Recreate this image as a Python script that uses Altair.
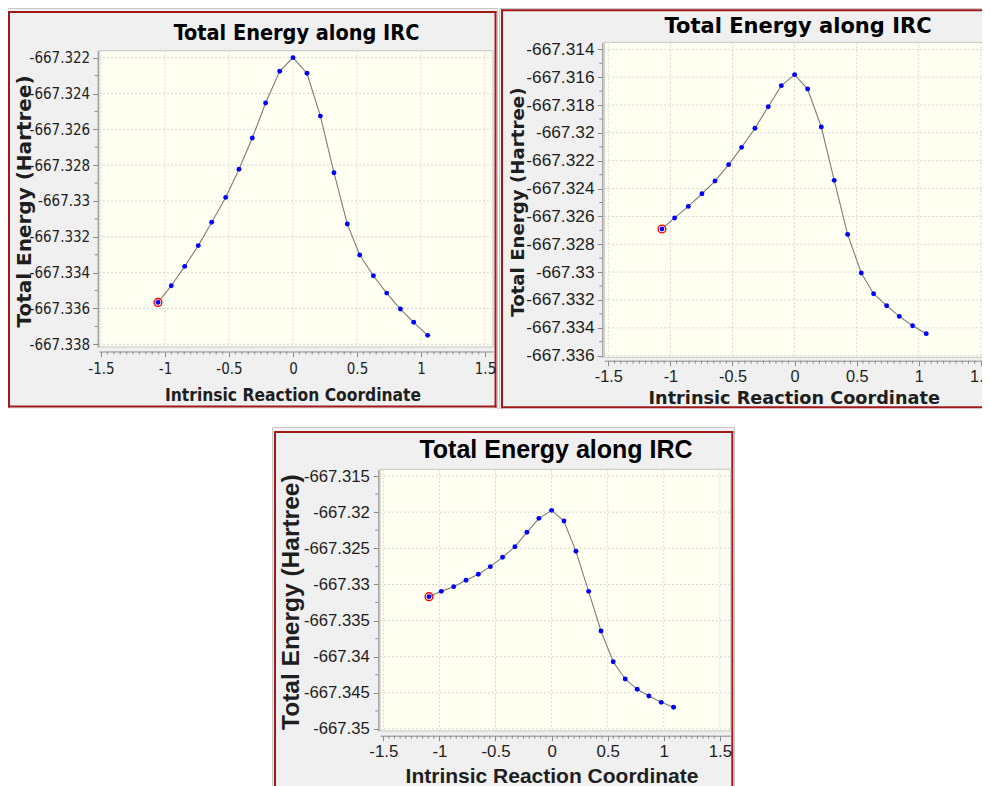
import altair as alt
import pandas as pd

# ---------------- data ----------------
IRC_A = [-1.055, -0.951, -0.846, -0.740, -0.635, -0.526, -0.422, -0.318, -0.214, -0.104, 0.000,
         0.109, 0.214, 0.320, 0.424, 0.521, 0.628, 0.732, 0.839, 0.943, 1.052]
E_A = [-667.33566, -667.33473, -667.33365, -667.33249, -667.33119, -667.32980, -667.32823,
       -667.32648, -667.32453, -667.32276, -667.32200, -667.32287, -667.32526, -667.32842,
       -667.33128, -667.33301, -667.33417, -667.33514, -667.33603, -667.33677, -667.33750]

IRC_B = [-1.068, -0.966, -0.856, -0.746, -0.641, -0.531, -0.427, -0.319, -0.212, -0.107, 0.000,
         0.105, 0.215, 0.319, 0.427, 0.537, 0.636, 0.741, 0.843, 0.950, 1.060]
E_B = [-667.32690, -667.32611, -667.32528, -667.32437, -667.32346, -667.32228, -667.32104,
       -667.31967, -667.31812, -667.31661, -667.31582, -667.31685, -667.31958, -667.32341,
       -667.32729, -667.33006, -667.33155, -667.33241, -667.33318, -667.33385, -667.33442]

IRC_C = [-1.093, -0.983, -0.873, -0.763, -0.653, -0.546, -0.437, -0.327, -0.220, -0.113, 0.000,
         0.110, 0.217, 0.330, 0.440, 0.549, 0.656, 0.763, 0.867, 0.977, 1.087]
E_C = [-667.33169, -667.33096, -667.33031, -667.32943, -667.32860, -667.32754, -667.32625,
       -667.32478, -667.32279, -667.32086, -667.31975, -667.32123, -667.32542, -667.33096,
       -667.33644, -667.34069, -667.34308, -667.34451, -667.34543, -667.34631, -667.34700]

X_TICKS = [-1.5, -1.0, -0.5, 0.0, 0.5, 1.0, 1.5]
X_MINOR = [round(-1.5 + 0.05 * i, 2) for i in range(61) if i % 10]

Y_TICKS_A = [-667.338, -667.336, -667.334, -667.332, -667.330, -667.328, -667.326, -667.324, -667.322]
Y_MINOR_A = [-667.337, -667.335, -667.333, -667.331, -667.329, -667.327, -667.325, -667.323]
Y_TICKS_B = [-667.336, -667.334, -667.332, -667.330, -667.328, -667.326, -667.324, -667.322,
             -667.320, -667.318, -667.316, -667.314]
Y_MINOR_B = [-667.335, -667.333, -667.331, -667.329, -667.327, -667.325, -667.323, -667.321,
             -667.319, -667.317, -667.315]
Y_TICKS_C = [-667.350, -667.345, -667.340, -667.335, -667.330, -667.325, -667.320, -667.315]
Y_MINOR_C = [-667.3475, -667.3425, -667.3375, -667.3325, -667.3275, -667.3225, -667.3175]

TITLE = "Total Energy along IRC"
X_TITLE = "Intrinsic Reaction Coordinate"
Y_TITLE = "Total Energy (Hartree)"

# ---------------- styling ----------------
W, H = 974, 778          # whole drawing; page position = chart position + 8
ONE = pd.DataFrame({"k": [0]})
PANEL_BG = "#f0f0f0"
PLOT_BG = "#fffff2"
RED = "#a01a1a"
FRAME = "#c9c9c9"
GRID = "#d6d6d6"
AXIS = "#8a8a8a"
TEXT = "#1e1e1e"
COND = "DejaVu Sans Condensed, DejaVu Sans, sans-serif"
DEJA = "DejaVu Sans, sans-serif"
LIB = "Liberation Sans, Arial, sans-serif"


def num_label(spec):
    return "replace(format(datum.value, '" + spec + "'), '\u2212', '-')"


def P(v):
    return v - 8  # page pixel -> chart pixel


def make_panel(irc, energy, yt, ym, c):
    def rect(x1, y1, x2, y2, color):
        return alt.Chart(ONE).mark_rect(color=color).encode(
            x=alt.value(P(x1)), x2=alt.value(P(x2)), y=alt.value(P(y1)), y2=alt.value(P(y2)))

    def seg(x1, y1, x2, y2, color, width):
        return alt.Chart(ONE).mark_rule(color=color, strokeWidth=width).encode(
            x=alt.value(P(x1)), x2=alt.value(P(x2)), y=alt.value(P(y1)), y2=alt.value(P(y2)))

    pl, pt, pr, pb = c["plot"]
    ax_x, ax_y = c["yaxis_at"], c["xaxis_at"]

    layers = [rect(*c["panel"], PANEL_BG)]
    layers += [seg(*s, FRAME, 1) for s in c["frame"]]
    layers += [seg(*s, RED, 2) for s in c["red"]]
    layers.append(alt.Chart(ONE).mark_rect(color=PLOT_BG, stroke="#c6c6c6", strokeWidth=1).encode(
        x=alt.value(P(pl)), x2=alt.value(P(pr)), y=alt.value(P(pt)), y2=alt.value(P(pb))))

    xs = alt.Scale(domain=c["xdom"], range=[P(pl), P(pr)], nice=False, zero=False)
    ys = alt.Scale(domain=c["ydom"], range=[P(pb), P(pt)], nice=False, zero=False)

    xaxis = alt.Axis(
        orient="bottom", values=X_TICKS, labelExpr=num_label(".1~f"), grid=False,
        domainColor=AXIS, tickColor=AXIS, tickSize=5, offset=P(ax_y) - H,
        labelFont=c["tickfont"], labelFontSize=c["tickx"], labelColor=TEXT,
        labelPadding=c["xlp"], labelFlush=False, labelOverlap=False,
        titleFont=c["xtfont"], titleFontSize=c["xtsize"], titleFontWeight="bold",
        titleColor=TEXT, titleX=P(c["xt"][0]), titleY=c["xt"][1] - ax_y, titleAlign="center",
        titleBaseline="alphabetic", zindex=1)
    yaxis = alt.Axis(
        orient="left", values=yt, labelExpr=num_label(".3~f"), grid=False,
        domainColor=AXIS, tickColor=AXIS, tickSize=5, offset=-P(ax_x),
        labelFont=c["tickfont"], labelFontSize=c["ticky"], labelColor=TEXT,
        labelPadding=c["ylp"], labelFlush=False, labelOverlap=False,
        titleFont=c["ytfont"], titleFontSize=c["ytsize"], titleFontWeight="bold",
        titleColor=TEXT, titleX=c["yt"][0] - ax_x, titleY=P(c["yt"][1]), titleAngle=270,
        titleAlign="center", titleBaseline="alphabetic", zindex=1)

    def X(field="irc"):
        return alt.X(field + ":Q", scale=xs, axis=xaxis, title=X_TITLE)

    def Y(field="energy"):
        return alt.Y(field + ":Q", scale=ys, axis=yaxis, title=Y_TITLE)

    gx = alt.Chart(pd.DataFrame({"irc": X_TICKS})).mark_rule(
        color=GRID, strokeDash=[2, 2], strokeWidth=1).encode(
        x=X(), y=alt.value(P(pt)), y2=alt.value(P(pb)))
    gy = alt.Chart(pd.DataFrame({"energy": yt})).mark_rule(
        color=GRID, strokeDash=[2, 2], strokeWidth=1).encode(
        y=Y(), x=alt.value(P(pl)), x2=alt.value(P(pr)))
    my = alt.Chart(pd.DataFrame({"energy": ym})).mark_rule(color=AXIS, strokeWidth=1).encode(
        y=Y(), x=alt.value(P(ax_x)), x2=alt.value(P(ax_x) - 3))
    mx = alt.Chart(pd.DataFrame({"irc": X_MINOR})).mark_rule(color=AXIS, strokeWidth=1).encode(
        x=X(), y=alt.value(P(ax_y)), y2=alt.value(P(ax_y) + 3))

    base = alt.Chart(pd.DataFrame({"irc": irc, "energy": energy}))
    line = base.mark_line(color="#7c7c7c", strokeWidth=1.1).encode(x=X(), y=Y())
    pts = base.mark_circle(color="#0000ff", size=24, opacity=1).encode(x=X(), y=Y())
    ring = alt.Chart(pd.DataFrame({"irc": irc[:1], "energy": energy[:1]})).mark_point(
        shape="circle", filled=False, color="#ff0000", size=60, strokeWidth=1.4, opacity=1).encode(
        x=X(), y=Y())

    title = alt.Chart(ONE).mark_text(
        text=TITLE, font=c["tfont"], fontSize=c["tsize"], fontWeight="bold", color="#000000",
        align="center", baseline="alphabetic").encode(
        x=alt.value(P(c["title"][0])), y=alt.value(P(c["title"][1])))

    return alt.layer(*layers, gx, gy, my, mx, line, pts, ring, title)


CFG_A = dict(
    plot=(99, 50.7, 493, 347), yaxis_at=97.7, xaxis_at=351.5,
    xdom=[-1.5156, 1.5625], ydom=[-667.338149, -667.321611],
    xlp=5, ylp=3,
    tickfont=COND, tickx=15, ticky=15,
    xtfont=COND, xtsize=17.3, xt=(292.5, 400),
    ytfont=DEJA, ytsize=20, yt=(30, 201),
    tfont=COND, tsize=21.5, title=(296.5, 39.5),
    panel=(8, 8, 498, 409),
    frame=[(8, 8.5, 498, 8.5), (497.5, 8, 497.5, 409)],
    red=[(9, 11, 9, 407.5), (8, 12, 496.5, 12), (495.5, 11, 495.5, 407.5), (8, 406.5, 496.5, 406.5)],
)
CFG_B = dict(
    plot=(604.3, 42.3, 990, 357.3), yaxis_at=602.3, xaxis_at=360.7,
    xdom=[-1.5322, 1.5733], ydom=[-667.336117, -667.313495],
    xlp=3, ylp=3.3,
    tickfont=LIB, tickx=16.3, ticky=17.3,
    xtfont=DEJA, xtsize=17.7, xt=(793.7, 403.3),
    ytfont=DEJA, ytsize=18.2, yt=(523.3, 201.7),
    tfont=DEJA, tsize=21, title=(798, 33.3),
    panel=(499, 8.5, 990, 409),
    frame=[(499.5, 8.5, 499.5, 409), (499, 8.5, 990, 8.5)],
    red=[(502, 9.5, 502, 408.3), (501, 10.3, 990, 10.3), (501, 407.3, 990, 407.3)],
)
CFG_C = dict(
    plot=(380, 469.3, 730.7, 731), yaxis_at=378.3, xaxis_at=735.7,
    xdom=[-1.5294, 1.5963], ydom=[-667.350277, -667.314073],
    xlp=3, ylp=4,
    tickfont=LIB, tickx=16.9, ticky=16.7,
    xtfont=LIB, xtsize=21, xt=(551.5, 782),
    ytfont=LIB, ytsize=24.5, yt=(298.3, 601.7),
    tfont=LIB, tsize=25, title=(556, 458.3),
    panel=(273, 427, 734, 786),
    frame=[(272.5, 427.5, 734.5, 427.5), (272.5, 427, 272.5, 786), (734.5, 427, 734.5, 786)],
    red=[(275, 431, 275, 786), (274, 432, 733.3, 432), (732.3, 431, 732.3, 786)],
)

p1 = make_panel(IRC_A, E_A, Y_TICKS_A, Y_MINOR_A, CFG_A)
p2 = make_panel(IRC_B, E_B, Y_TICKS_B, Y_MINOR_B, CFG_B)
p3 = make_panel(IRC_C, E_C, Y_TICKS_C, Y_MINOR_C, CFG_C)

chart = alt.layer(p1, p2, p3).resolve_scale(
    x="independent", y="independent"
).properties(
    width=W, height=H, padding=0, autosize=alt.AutoSizeParams(type="none")
).configure_view(strokeWidth=0).configure_axis(labelOverlap=False)

chart.save("out.html", embed_options={"renderer": "svg", "actions": False})
